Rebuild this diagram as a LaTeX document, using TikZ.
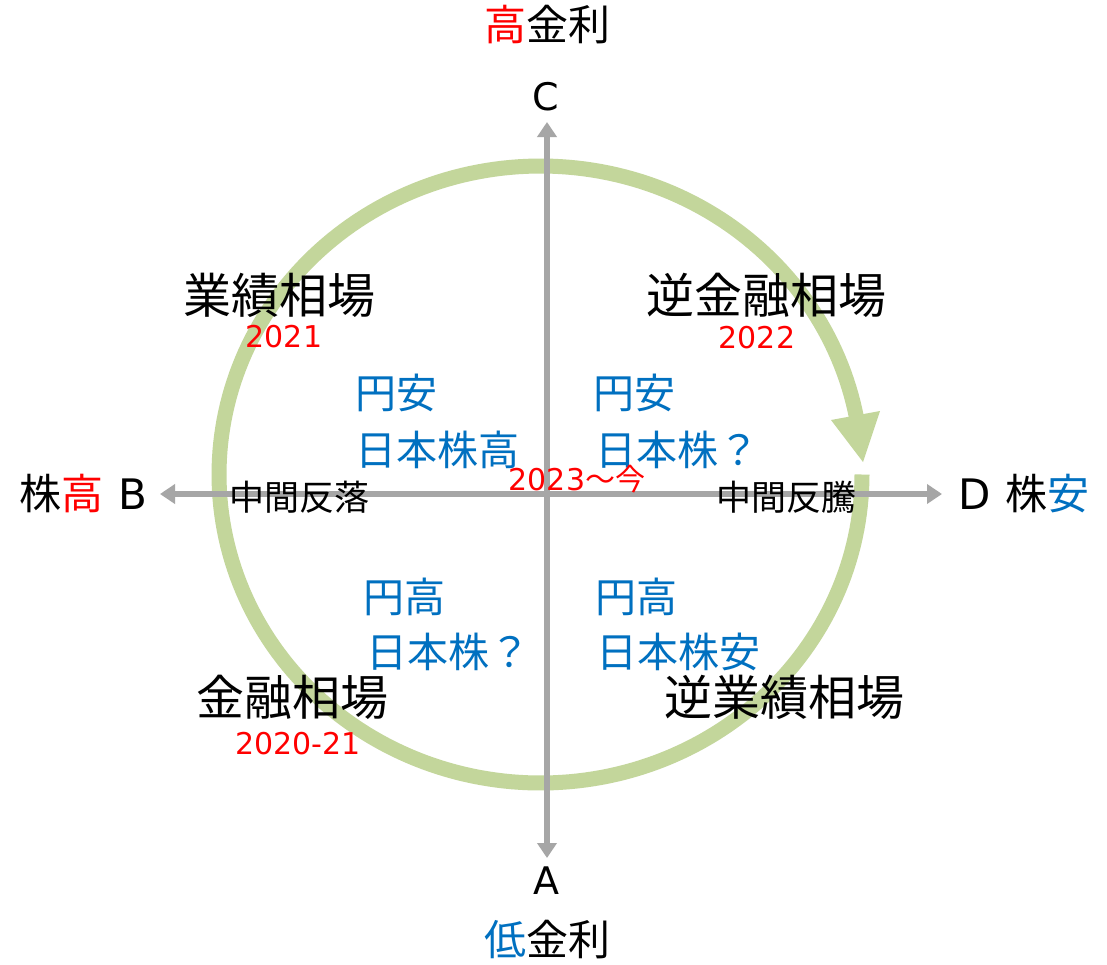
\documentclass[tikz,border=0pt]{standalone}
\usepackage{fontspec}
\setmainfont{Noto Sans CJK JP}
\newfontfamily\lat{DejaVu Sans}
\usetikzlibrary{arrows.meta}
\definecolor{grn}{HTML}{C3D69B}
\definecolor{gry}{HTML}{A6A6A6}
\definecolor{blu}{HTML}{0070C0}
\definecolor{rd}{HTML}{FF0000}
\newcommand{\fsz}[1]{\fontsize{#1}{#1}\selectfont}
\tikzset{
  big/.style={font=\fsz{48}},
  bluetxt/.style={font=\fsz{41}, text=blu, anchor=west},
  yr/.style={font=\lat\fsz{30}, text=rd},
  midtxt/.style={font=\fsz{35}},
  axlab/.style={font=\lat\fsz{38}},
  endlab/.style={font=\fsz{42}},
  axisline/.style={draw=gry, line width=6pt, arrows={Triangle[length=15pt,width=19pt]-Triangle[length=15pt,width=19pt]}},
  cyc/.style={draw=grn, line width=15pt},
}
\begin{document}
\begin{tikzpicture}[x=1pt,y=-1pt, every node/.style={inner sep=0pt, outer sep=0pt}]
\useasboundingbox (0,0) rectangle (1107,964);
\fill[white] (0,0) rectangle (1107,964);

% cycle
\draw[cyc] plot[domain=0:349.5, samples=240] ({540.5+321.5*cos(\x)},{474.5+308.5*sin(\x)});
\coordinate (h1) at (831,420);
\coordinate (h2) at (880,411);
\coordinate (h3) at (863,462);
\fill[grn] (h1) -- (h2) -- (h3) -- cycle;

% axes
\coordinate (L) at (160,494);
\coordinate (R) at (942,494);
\coordinate (T) at (547,122);
\coordinate (Bt) at (547,858);
\draw[axisline] (L) -- (R);
\draw[axisline] (Bt) -- (T);

% axis labels
\node[endlab] (hi) at (547,25) {{\color{rd}高}金利};
\node[axlab] (C) at (546,97) {C};
\node[axlab] (A) at (546,881) {A};
\node[endlab] (lo) at (547,940) {{\color{blu}低}金利};
\node[endlab, anchor=east] (B) at (147,494) {株{\color{rd}高}\hspace{15pt}{\lat B}};
\node[endlab, anchor=west] (D) at (958,494) {{\lat D}\hspace{15pt}株{\color{blu}安}};

% quadrant titles
\node[big] (q1) at (279,295) {業績相場};
\node[yr] (y1) at (284,337) {2021};
\node[big] (q2) at (766,295) {逆金融相場};
\node[yr] (y2) at (757,338) {2022};
\node[big] (q3) at (292,697) {金融相場};
\node[yr] (y3) at (298,744) {2020-21};
\node[big] (q4) at (784,697) {逆業績相場};

% blue texts
\node[bluetxt] (b1) at (355,393) {円安};
\node[bluetxt] (b2) at (355,450) {日本株高};
\node[bluetxt] (b3) at (593,393) {円安};
\node[bluetxt] (b4) at (595,450) {日本株？};
\node[bluetxt] (b5) at (363,597) {円高};
\node[bluetxt] (b6) at (366,652) {日本株？};
\node[bluetxt] (b7) at (595,597) {円高};
\node[bluetxt] (b8) at (596,652) {日本株安};

% center
\node[text=rd, font=\fsz{30}] (now) at (577,479) {{\lat 2023}～今};
\node[midtxt] (m1) at (299,497) {中間反落};
\node[midtxt] (m2) at (786,497) {中間反騰};
\end{tikzpicture}
\end{document}
